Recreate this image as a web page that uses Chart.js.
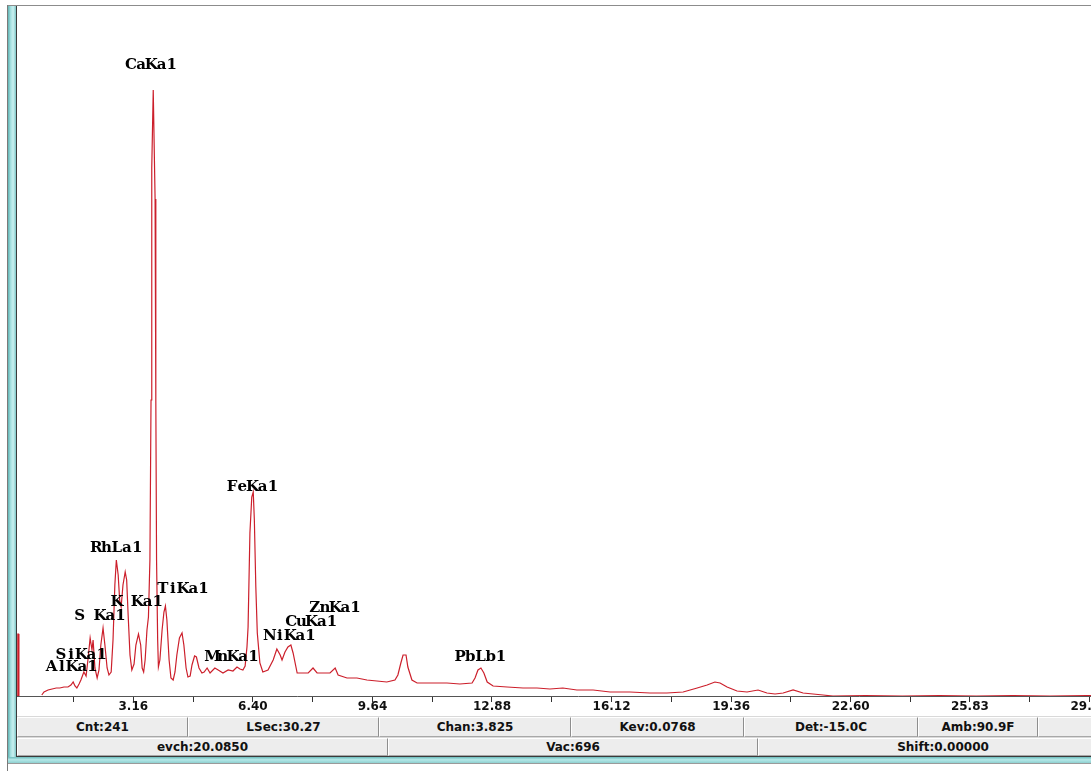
<!DOCTYPE html>
<html>
<head>
<meta charset="utf-8">
<script src="https://cdn.jsdelivr.net/npm/chart.js@4.4.1/dist/chart.umd.min.js"></script>
<style>
  html, body { margin: 0; padding: 0; background: #fff; }
  body { width: 1091px; height: 771px; overflow: hidden; position: relative; }
  #plot { position: absolute; left: 0; top: 0; width: 1140px; height: 716px; }
  .edge { position: absolute; }
  #topline { left: 7px; top: 5px; width: 1084px; height: 1px; background: #8c8c8c; }
  #leftline { left: 7px; top: 5px; width: 1px; height: 766px; background: #7a7a7a; }
  #teal { left: 8px; top: 6px; width: 8px; height: 757px;
          background: linear-gradient(to right, #5fb3b3, #a9e2e2 35%, #c9f0f0 65%, #7fc7c7); }
  #darkline { left: 16px; top: 6px; width: 1px; height: 751px; background: #3a3a3a; }
  #bottomdark { left: 16px; top: 756px; width: 1075px; height: 1px; background: #3a3a3a; }
  #bottomteal { left: 8px; top: 757px; width: 1083px; height: 6px;
          background: linear-gradient(to bottom, #6cbcbc, #b5e8e8 45%, #8fd0d0); }
  #bottomlight { left: 8px; top: 763px; width: 1083px; height: 1px; background: #9a9a9a; }
  #status { position: absolute; left: 17px; top: 716px; width: 1074px; height: 40px; background: #d9d9d9; }
  .cell { position: absolute; box-sizing: border-box; background: #ededed;
          border-top: 1px solid #ffffff; border-left: 1px solid #ffffff;
          border-right: 1px solid #8e8e8e; border-bottom: 1px solid #a8a8a8;
          font: bold 12px "DejaVu Sans", sans-serif; color: #111; text-align: center; white-space: nowrap; }
  .r1 { top: 1px; height: 20px; line-height: 18px; }
  .r2 { top: 22px; height: 18px; line-height: 16px; }
</style>
</head>
<body>
<canvas id="plot" width="1140" height="716"></canvas>

<div id="status">
  <div class="cell r1" style="left:0px;width:171px">Cnt:241</div>
  <div class="cell r1" style="left:171px;width:191px">LSec:30.27</div>
  <div class="cell r1" style="left:362px;width:192px">Chan:3.825</div>
  <div class="cell r1" style="left:554px;width:173px">Kev:0.0768</div>
  <div class="cell r1" style="left:727px;width:174px">Det:-15.0C</div>
  <div class="cell r1" style="left:901px;width:120px">Amb:90.9F</div>
  <div class="cell r1" style="left:1021px;width:80px"></div>
  <div class="cell r2" style="left:0px;width:371px">evch:20.0850</div>
  <div class="cell r2" style="left:371px;width:370px">Vac:696</div>
  <div class="cell r2" style="left:741px;width:370px">Shift:0.00000</div>
</div>

<div class="edge" id="topline"></div>
<div class="edge" id="leftline"></div>
<div class="edge" id="teal"></div>
<div class="edge" id="darkline"></div>
<div class="edge" id="bottomdark"></div>
<div class="edge" id="bottomteal"></div>
<div class="edge" id="bottomlight"></div>

<script>
// spectrum, energy in keV and counts (arbitrary units)
const energyKev = [
  0.00, 0.02, 0.03, 0.05, 0.06, 0.30,
  0.68, 0.74, 0.85, 0.96, 1.07, 1.17, 1.28, 1.39, 1.47, 1.53, 1.58, 1.63, 1.69, 1.74,
  1.82, 1.88, 1.93, 1.99, 2.04, 2.07, 2.12, 2.18, 2.23, 2.28, 2.34, 2.39, 2.45, 2.50,
  2.56, 2.61, 2.66, 2.70, 2.75, 2.79, 2.83, 2.88, 2.94, 2.98, 3.02, 3.07, 3.12, 3.18,
  3.23, 3.30, 3.36, 3.40, 3.44, 3.48, 3.53, 3.57, 3.61, 3.64, 3.66, 3.70, 3.75, 3.77,
  3.79, 3.82, 3.84, 3.88, 3.94, 3.99, 4.03, 4.07, 4.13, 4.18, 4.24, 4.29, 4.34, 4.41,
  4.48, 4.53, 4.59, 4.64, 4.70, 4.75, 4.82, 4.87, 4.94, 5.02, 5.08, 5.16, 5.24, 5.37,
  5.46, 5.59, 5.73, 5.86, 5.97, 6.05, 6.13, 6.19, 6.24, 6.27, 6.32, 6.37, 6.41, 6.44,
  6.48, 6.52, 6.59, 6.67, 6.81, 6.95, 7.05, 7.14, 7.19, 7.27, 7.35, 7.43, 7.49, 7.60,
  7.76, 7.90, 8.03, 8.14, 8.30, 8.49, 8.63, 8.71, 8.95, 9.22, 9.49, 9.76, 10.03, 10.25,
  10.33, 10.41, 10.47, 10.55, 10.60, 10.71, 10.85, 11.12, 11.39, 11.66, 12.01, 12.34, 12.42, 12.50,
  12.58, 12.66, 12.75, 12.91, 13.29, 13.72, 14.10, 14.45, 14.80, 15.18, 15.62, 16.08, 16.62, 17.16,
  17.62, 18.06, 18.44, 18.71, 18.92, 19.06, 19.25, 19.52, 19.79, 20.09, 20.33, 20.55, 20.77, 21.04,
  21.31, 21.58, 21.85, 22.12, 23.00, 24.00, 25.00, 26.00, 27.00, 28.00, 29.00, 30.40
];
const counts = [
  0, 0, 62, 62, 0, null,
  1, 4, 6, 7, 8, 8, 9, 9, 11, 14, 10, 8, 12, 16,
  24, 20, 36, 58, 46, 56, 28, 18, 26, 51, 68, 51, 28, 21,
  24, 56, 111, 136, 121, 96, 89, 111, 124, 116, 81, 41, 26, 32,
  51, 62, 51, 28, 24, 36, 66, 79, 136, 296, 528, 606, 497, 296,
  136, 56, 29, 36, 66, 84, 90, 76, 36, 18, 16, 24, 41, 58,
  63, 51, 28, 19, 20, 31, 40, 39, 28, 23, 24, 28, 23, 28,
  26, 23, 26, 25, 29, 27, 26, 30, 49, 69, 163, 199, 204, 176,
  109, 63, 33, 24, 26, 36, 47, 41, 36, 44, 49, 51, 43, 23,
  23, 23, 28, 23, 23, 23, 28, 21, 18, 18, 16, 15, 14, 16,
  21, 33, 41, 41, 29, 16, 13, 13, 13, 13, 12, 13, 18, 26,
  28, 23, 14, 10, 9, 8, 8, 7, 8, 6, 6, 4, 4, 3,
  3, 4, 8, 11, 14, 13, 9, 5, 4, 6, 3, 2, 3, 6,
  3, 2, 1, 0, 0.5, 0, 0.5, 0, 0.5, 0, 0.5, 0
];

// peak identification labels
const peakNames = ["CaKa1", "FeKa1", "RhLa1", "TiKa1", "K Ka1", "S Ka1", "SiKa1",
                   "AlKa1", "MnKa1", "NiKa1", "CuKa1", "ZnKa1", "PbLb1"];
const peakLabelKev = [3.65, 6.39, 2.71, 4.51, 3.27, 2.26, 1.75, 1.50, 5.86, 7.41, 7.99, 8.63, 12.57];
const peakLabelCounts = [631, 209, 148, 107, 94, 80, 41, 29, 39, 60, 74, 88, 39];

// x axis ticks
const tickValues = [1.54, 3.16, 4.78, 6.40, 8.02, 9.64, 11.26, 12.88, 14.50,
                    16.12, 17.74, 19.36, 20.98, 22.60, 24.22, 25.83, 27.45, 29.07];
const tickLabels = ["3.16", "6.40", "9.64", "12.88", "16.12", "19.36", "22.60", "25.83", "29.07"];

const peakLabels = {
  id: 'peakLabels',
  afterDatasetsDraw(chart) {
    const { ctx, scales: { x, y } } = chart;
    const pitch = 10.2;
    ctx.save();
    ctx.font = 'bold 15px "DejaVu Serif"';
    ctx.fillStyle = '#000';
    ctx.textAlign = 'center';
    ctx.textBaseline = 'middle';
    peakNames.forEach((name, i) => {
      const cx = x.getPixelForValue(peakLabelKev[i]);
      const cy = y.getPixelForValue(peakLabelCounts[i]);
      const start = cx - pitch * (name.length - 1) / 2;
      for (let j = 0; j < name.length; j++) {
        ctx.fillText(name[j], start + j * pitch, cy);
      }
    });
    ctx.restore();
  }
};

new Chart(document.getElementById('plot').getContext('2d'), {
  type: 'line',
  data: {
    datasets: [{
      data: energyKev.map((e, i) => ({ x: e, y: counts[i] })),
      borderColor: '#cc1f2b',
      borderWidth: 1.2,
      pointRadius: 0,
      tension: 0,
      fill: false,
      spanGaps: false
    }]
  },
  options: {
    responsive: false,
    animation: false,
    devicePixelRatio: 1,
    layout: { padding: { left: 16.7, top: 8, right: 0, bottom: 0 } },
    plugins: { legend: { display: false }, tooltip: { enabled: false } },
    scales: {
      x: {
        type: 'linear',
        min: 0,
        max: 30.44,
        afterBuildTicks(scale) {
          scale.ticks = tickValues.map(v => ({ value: v }));
        },
        afterFit(scale) { scale.height = 20; },
        ticks: {
          autoSkip: false,
          maxRotation: 0,
          padding: -2,
          color: '#111',
          font: { family: 'DejaVu Sans', size: 12, weight: 'bold' },
          callback(value) {
            const s = value.toFixed(2);
            return tickLabels.includes(s) ? s : '';
          }
        },
        grid: { drawOnChartArea: false, drawTicks: true, tickLength: 6, color: '#333' },
        border: { display: true, color: '#555' }
      },
      y: {
        display: false,
        min: 0,
        max: 688
      }
    }
  },
  plugins: [peakLabels]
});
</script>
</body>
</html>
